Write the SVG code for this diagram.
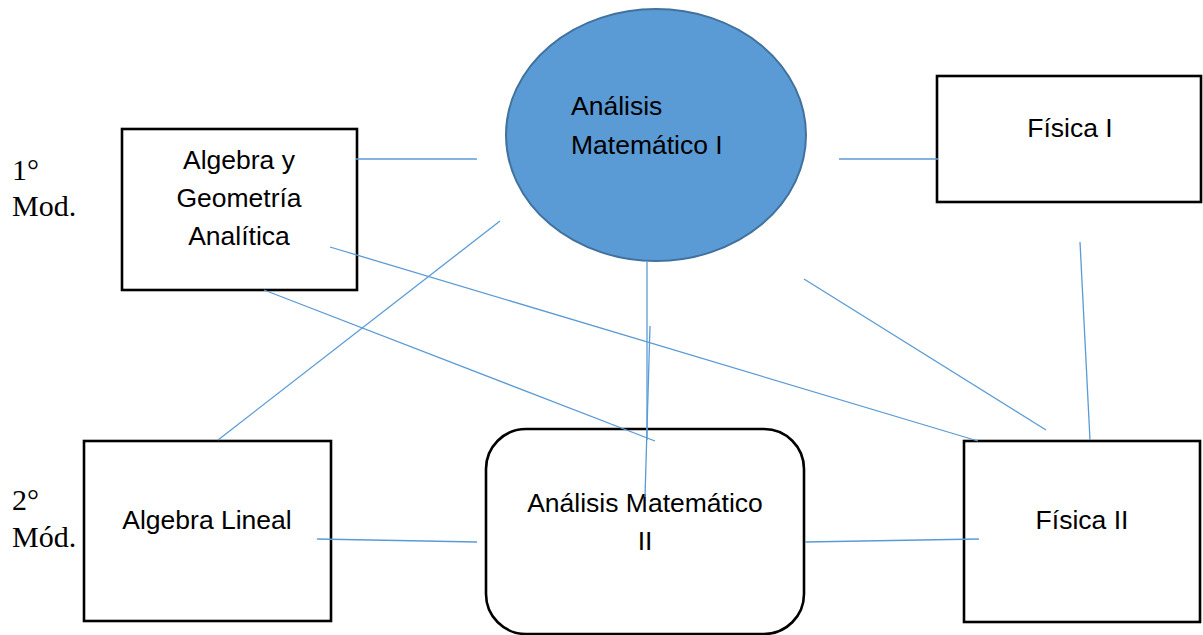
<svg xmlns="http://www.w3.org/2000/svg" width="1203" height="635" viewBox="0 0 1203 635">
<style>
.box{fill:#fff;stroke:#000;stroke-width:2.6}
.lbl{font-family:"Liberation Sans",Arial,sans-serif;font-size:26.5px;fill:#000}
.mod{font-family:"Liberation Serif","Times New Roman",serif;font-size:30px;fill:#000}
.c line{stroke:#5B9BD5;stroke-width:1.3}
</style>
<rect width="1203" height="635" fill="#fff"/>
<g id="mod1"><text class="mod" x="12" y="180">1°</text><text class="mod" x="12" y="216">Mod.</text></g>
<g id="mod2"><text class="mod" x="12" y="510">2°</text><text class="mod" x="12" y="547">Mód.</text></g>
<g id="aga"><rect class="box" x="122" y="129" width="235" height="161"/>
<text class="lbl" text-anchor="middle" x="239" y="169">Algebra y</text>
<text class="lbl" text-anchor="middle" x="239" y="207">Geometría</text>
<text class="lbl" text-anchor="middle" x="239" y="245">Analítica</text></g>
<g id="am1"><ellipse cx="656" cy="135" rx="150" ry="126" fill="#5B9BD5" stroke="#41719C" stroke-width="2"/>
<text class="lbl" x="571" y="115">Análisis</text>
<text class="lbl" x="571" y="154">Matemático I</text></g>
<g id="f1"><rect class="box" x="937" y="76" width="264" height="126"/>
<text class="lbl" text-anchor="middle" x="1070" y="137">Física I</text></g>
<g id="al"><rect class="box" x="84" y="441" width="247" height="180"/>
<text class="lbl" text-anchor="middle" x="207" y="529">Algebra Lineal</text></g>
<g id="am2"><rect class="box" x="486" y="429" width="318" height="205" rx="40" ry="40"/>
<text class="lbl" text-anchor="middle" x="645" y="512">Análisis Matemático</text>
<text class="lbl" text-anchor="middle" x="645" y="550">II</text></g>
<g id="f2"><rect class="box" x="964" y="441" width="236" height="181"/>
<text class="lbl" text-anchor="middle" x="1082" y="529">Física II</text></g>
<g class="c" id="connectors">
<line x1="356" y1="159" x2="477" y2="159"/>
<line x1="839" y1="159" x2="938" y2="159"/>
<line x1="330" y1="247" x2="978" y2="441"/>
<line x1="264" y1="290" x2="655" y2="441"/>
<line x1="218" y1="440" x2="500" y2="221"/>
<line x1="647" y1="262" x2="647" y2="440"/>
<line x1="650" y1="326" x2="645" y2="497"/>
<line x1="804" y1="279" x2="1046" y2="430"/>
<line x1="1080" y1="242" x2="1090" y2="440"/>
<line x1="317" y1="539" x2="477" y2="542"/>
<line x1="805" y1="542" x2="979" y2="539"/>
</g>
</svg>
